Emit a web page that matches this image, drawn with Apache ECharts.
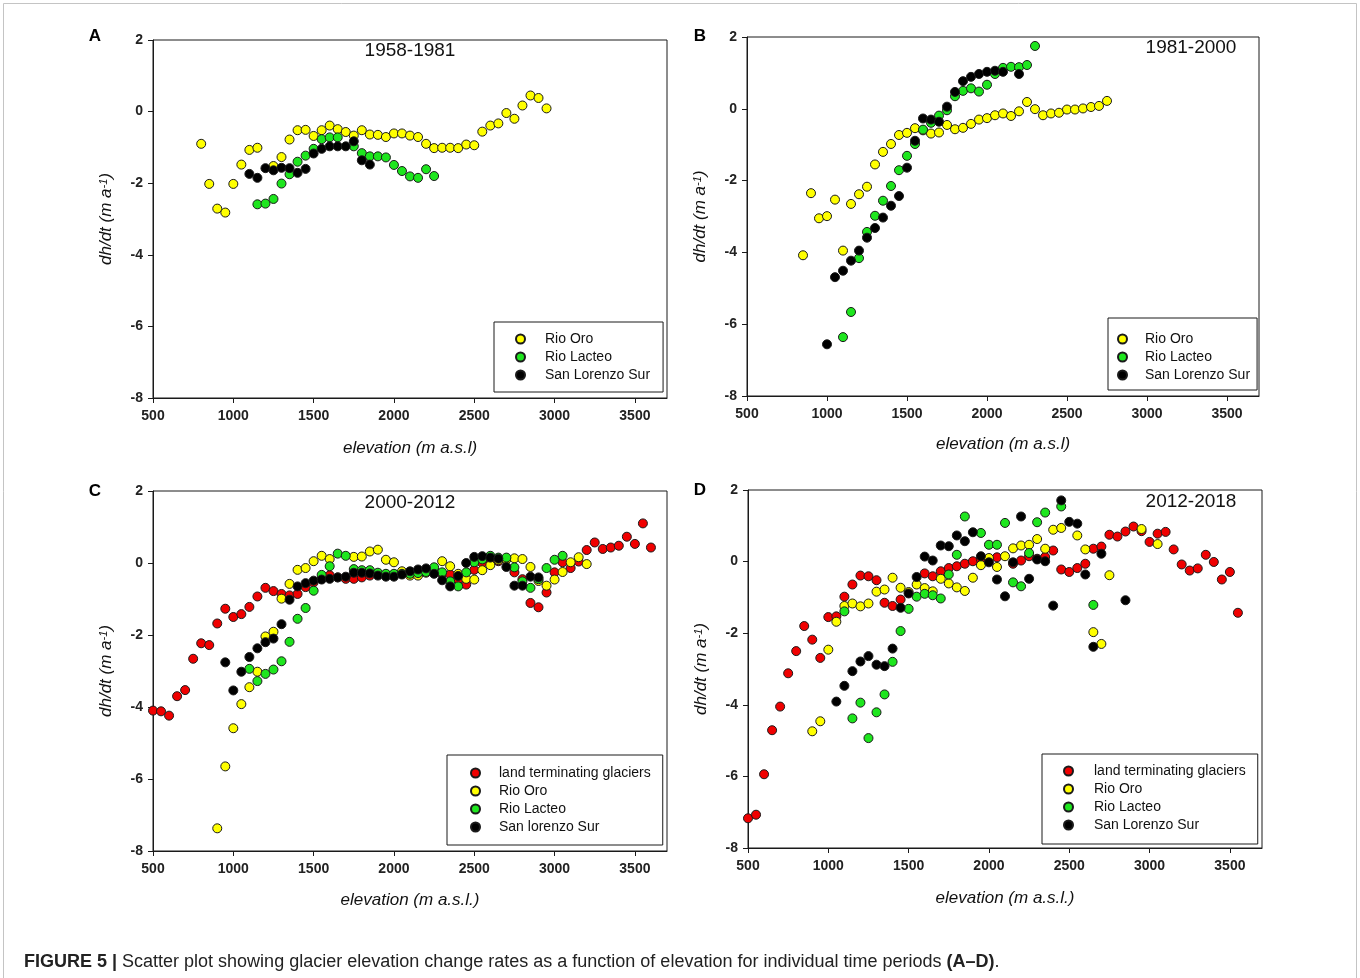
<!DOCTYPE html>
<html><head><meta charset="utf-8">
<script src="https://cdn.jsdelivr.net/npm/echarts@6/dist/echarts.min.js"></script>
<style>html,body{margin:0;padding:0;background:#fff}#c{width:1360px;height:978px}</style>
</head><body><div id="c"></div>
<script>
// ---------- tick labels / categories ----------
const X_TICKS = [500, 1000, 1500, 2000, 2500, 3000, 3500];
const Y_TICKS = [-8, -6, -4, -2, 0, 2];
const PANEL_LETTERS = ['A', 'B', 'C', 'D'];
const PERIODS = ['1958-1981', '1981-2000', '2000-2012', '2012-2018'];
const X_NAMES = ['elevation (m a.s.l)', 'elevation (m a.s.l)', 'elevation (m a.s.l.)', 'elevation (m a.s.l.)'];
const LEGEND_A = ['Rio Oro', 'Rio Lacteo', 'San Lorenzo Sur'];
const LEGEND_B = ['Rio Oro', 'Rio Lacteo', 'San Lorenzo Sur'];
const LEGEND_C = ['land terminating glaciers', 'Rio Oro', 'Rio Lacteo', 'San lorenzo Sur'];
const LEGEND_D = ['land terminating glaciers', 'Rio Oro', 'Rio Lacteo', 'San Lorenzo Sur'];

// ---------- data: [elevation (m a.s.l.), dh/dt (m a-1)] ----------
// Panel A 1958-1981
const A_ORO = [[800,-0.90],[850,-2.02],[900,-2.71],[950,-2.82],[1000,-2.02],[1050,-1.48],[1100,-1.07],[1150,-1.01],[1250,-1.52],[1300,-1.27],[1350,-0.78],[1400,-0.52],[1450,-0.51],[1500,-0.68],[1550,-0.52],[1600,-0.39],[1650,-0.49],[1700,-0.57],[1750,-0.67],[1800,-0.52],[1850,-0.64],[1900,-0.65],[1950,-0.71],[2000,-0.61],[2050,-0.61],[2100,-0.67],[2150,-0.71],[2200,-0.90],[2250,-1.02],[2300,-1.01],[2350,-1.01],[2400,-1.02],[2450,-0.92],[2500,-0.94],[2550,-0.56],[2600,-0.39],[2650,-0.33],[2700,-0.04],[2750,-0.20],[2800,0.17],[2850,0.45],[2900,0.38],[2950,0.09]];
const A_LACTEO = [[1150,-2.59],[1200,-2.57],[1250,-2.44],[1300,-2.01],[1350,-1.75],[1400,-1.40],[1450,-1.23],[1500,-1.04],[1550,-0.77],[1600,-0.72],[1650,-0.72],[1750,-0.97],[1800,-1.16],[1850,-1.25],[1900,-1.25],[1950,-1.28],[2000,-1.49],[2050,-1.66],[2100,-1.81],[2150,-1.85],[2200,-1.61],[2250,-1.80]];
const A_SLS = [[1100,-1.74],[1150,-1.85],[1200,-1.58],[1250,-1.64],[1300,-1.57],[1350,-1.58],[1400,-1.71],[1450,-1.60],[1500,-1.17],[1550,-1.04],[1600,-0.97],[1650,-0.97],[1700,-0.97],[1750,-0.83],[1800,-1.36],[1850,-1.48]];
// Panel B 1981-2000
const B_ORO = [[850,-4.08],[900,-2.35],[950,-3.05],[1000,-2.99],[1050,-2.53],[1100,-3.95],[1150,-2.65],[1200,-2.38],[1250,-2.17],[1300,-1.55],[1350,-1.20],[1400,-0.98],[1450,-0.73],[1500,-0.67],[1550,-0.54],[1600,-0.60],[1650,-0.69],[1700,-0.66],[1750,-0.45],[1800,-0.57],[1850,-0.53],[1900,-0.42],[1950,-0.30],[2000,-0.26],[2050,-0.18],[2100,-0.13],[2150,-0.20],[2200,-0.07],[2250,0.19],[2300,-0.01],[2350,-0.18],[2400,-0.13],[2450,-0.11],[2500,-0.02],[2550,-0.02],[2600,0.01],[2650,0.05],[2700,0.08],[2750,0.22]];
const B_LACTEO = [[1100,-6.36],[1150,-5.66],[1200,-4.16],[1250,-3.43],[1300,-2.98],[1350,-2.56],[1400,-2.15],[1450,-1.71],[1500,-1.31],[1550,-0.98],[1600,-0.58],[1650,-0.39],[1700,-0.19],[1750,-0.04],[1800,0.35],[1850,0.50],[1900,0.57],[1950,0.48],[2000,0.67],[2050,0.97],[2100,1.14],[2150,1.17],[2200,1.16],[2250,1.22],[2300,1.75]];
const B_SLS = [[1000,-6.56],[1050,-4.69],[1100,-4.51],[1150,-4.23],[1200,-3.95],[1250,-3.59],[1300,-3.32],[1350,-3.03],[1400,-2.70],[1450,-2.43],[1500,-1.64],[1550,-0.89],[1600,-0.27],[1650,-0.30],[1700,-0.36],[1750,0.06],[1800,0.47],[1850,0.77],[1900,0.89],[1950,0.97],[2000,1.03],[2050,1.06],[2100,1.03],[2200,0.97]];
// Panel C 2000-2012
const C_LAND = [[500,-4.10],[550,-4.12],[600,-4.24],[650,-3.70],[700,-3.53],[750,-2.66],[800,-2.23],[850,-2.28],[900,-1.68],[950,-1.27],[1000,-1.50],[1050,-1.42],[1100,-1.22],[1150,-0.93],[1200,-0.69],[1250,-0.78],[1300,-0.86],[1350,-0.90],[1400,-0.86],[1450,-0.67],[1500,-0.54],[1550,-0.44],[1600,-0.34],[1650,-0.40],[1700,-0.44],[1750,-0.44],[1800,-0.40],[1850,-0.35],[1900,-0.30],[1950,-0.32],[2000,-0.32],[2050,-0.28],[2100,-0.25],[2150,-0.25],[2200,-0.22],[2250,-0.20],[2300,-0.30],[2350,-0.32],[2400,-0.46],[2450,-0.60],[2500,-0.19],[2550,0.00],[2600,0.09],[2650,0.05],[2700,0.10],[2750,-0.26],[2800,-0.45],[2850,-1.11],[2900,-1.23],[2950,-0.82],[3000,-0.26],[3050,0.02],[3100,-0.14],[3150,0.04],[3200,0.36],[3250,0.57],[3300,0.39],[3350,0.43],[3400,0.48],[3450,0.73],[3500,0.53],[3550,1.10],[3600,0.43]];
const C_ORO = [[900,-7.37],[950,-5.65],[1000,-4.59],[1050,-3.92],[1100,-3.45],[1150,-3.02],[1200,-2.04],[1250,-1.91],[1300,-0.99],[1350,-0.58],[1400,-0.19],[1450,-0.14],[1500,0.05],[1550,0.20],[1600,0.11],[1750,0.17],[1800,0.18],[1850,0.32],[1900,0.37],[1950,0.09],[2000,0.02],[2050,-0.23],[2100,-0.35],[2150,-0.35],[2200,-0.27],[2300,0.05],[2350,-0.09],[2400,-0.30],[2450,-0.44],[2500,-0.46],[2550,-0.20],[2600,-0.06],[2650,0.08],[2700,0.10],[2750,0.13],[2800,0.11],[2850,-0.11],[2900,-0.50],[2950,-0.63],[3000,-0.46],[3050,-0.25],[3100,0.02],[3150,0.16],[3200,-0.03]];
const C_LACTEO = [[1100,-2.94],[1150,-3.28],[1200,-3.08],[1250,-2.96],[1300,-2.73],[1350,-2.19],[1400,-1.55],[1450,-1.25],[1500,-0.77],[1550,-0.33],[1600,-0.09],[1650,0.26],[1700,0.20],[1750,-0.17],[1800,-0.20],[1850,-0.20],[1900,-0.27],[1950,-0.30],[2000,-0.30],[2050,-0.30],[2100,-0.30],[2150,-0.28],[2200,-0.25],[2250,-0.12],[2300,-0.26],[2350,-0.51],[2400,-0.65],[2450,-0.26],[2500,0.02],[2550,0.10],[2600,0.20],[2650,0.15],[2700,0.15],[2750,-0.12],[2800,-0.51],[2850,-0.69],[2900,-0.45],[2950,-0.14],[3000,0.09],[3050,0.20]];
const C_SLS = [[950,-2.76],[1000,-3.54],[1050,-3.02],[1100,-2.61],[1150,-2.37],[1200,-2.20],[1250,-2.10],[1300,-1.70],[1350,-1.02],[1400,-0.65],[1450,-0.56],[1500,-0.49],[1550,-0.46],[1600,-0.44],[1650,-0.40],[1700,-0.38],[1750,-0.27],[1800,-0.27],[1850,-0.29],[1900,-0.35],[1950,-0.38],[2000,-0.38],[2050,-0.32],[2100,-0.23],[2150,-0.18],[2200,-0.15],[2250,-0.30],[2300,-0.48],[2350,-0.65],[2400,-0.36],[2450,0.00],[2500,0.17],[2550,0.19],[2600,0.15],[2650,0.12],[2700,-0.11],[2750,-0.63],[2800,-0.63],[2850,-0.38],[2900,-0.40]];
// Panel D 2012-2018
const D_LAND = [[500,-7.17],[550,-7.07],[600,-5.94],[650,-4.71],[700,-4.05],[750,-3.12],[800,-2.50],[850,-1.80],[900,-2.18],[950,-2.69],[1000,-1.55],[1050,-1.53],[1100,-0.98],[1150,-0.64],[1200,-0.39],[1250,-0.41],[1300,-0.52],[1350,-1.15],[1400,-1.24],[1450,-1.06],[1600,-0.33],[1650,-0.41],[1700,-0.27],[1750,-0.18],[1800,-0.13],[1850,-0.06],[1900,0.01],[1950,0.06],[2000,0.08],[2050,0.12],[2150,-0.06],[2200,0.03],[2250,0.15],[2300,0.08],[2350,0.13],[2400,0.31],[2450,-0.22],[2500,-0.29],[2550,-0.18],[2600,-0.06],[2650,0.36],[2700,0.42],[2750,0.75],[2800,0.70],[2850,0.84],[2900,0.98],[2950,0.85],[3000,0.55],[3050,0.78],[3100,0.83],[3150,0.34],[3200,-0.08],[3250,-0.25],[3300,-0.19],[3350,0.19],[3400,-0.01],[3450,-0.50],[3500,-0.29],[3550,-1.43]];
const D_ORO = [[900,-4.74],[950,-4.46],[1000,-2.46],[1050,-1.68],[1100,-1.24],[1150,-1.17],[1200,-1.25],[1250,-1.17],[1300,-0.84],[1350,-0.78],[1400,-0.45],[1450,-0.73],[1500,-0.85],[1550,-0.64],[1600,-0.74],[1650,-0.83],[1700,-0.48],[1750,-0.61],[1800,-0.72],[1850,-0.82],[1900,-0.45],[1950,-0.10],[2000,0.10],[2050,-0.15],[2100,0.15],[2150,0.37],[2200,0.45],[2250,0.47],[2300,0.63],[2350,0.36],[2400,0.89],[2450,0.94],[2550,0.73],[2600,0.34],[2650,-1.97],[2700,-2.30],[2750,-0.38],[2950,0.91],[3050,0.49]];
const D_LACTEO = [[1100,-1.39],[1150,-4.38],[1200,-3.94],[1250,-4.93],[1300,-4.21],[1350,-3.71],[1400,-2.80],[1450,-1.94],[1500,-1.32],[1550,-0.98],[1600,-0.90],[1650,-0.94],[1700,-1.03],[1750,-0.36],[1800,0.19],[1850,1.26],[1950,0.80],[2000,0.47],[2050,0.47],[2100,1.08],[2150,-0.58],[2200,-0.69],[2250,0.24],[2300,1.10],[2350,1.37],[2450,1.54],[2650,-1.21]];
const D_SLS = [[1050,-3.91],[1100,-3.47],[1150,-3.06],[1200,-2.79],[1250,-2.64],[1300,-2.88],[1350,-2.92],[1400,-2.43],[1450,-1.29],[1500,-0.89],[1550,-0.43],[1600,0.14],[1650,0.03],[1700,0.45],[1750,0.43],[1800,0.73],[1850,0.57],[1900,0.82],[1950,0.15],[2000,-0.02],[2050,-0.50],[2100,-0.97],[2150,-0.02],[2200,1.26],[2250,-0.48],[2300,0.06],[2350,0.01],[2400,-1.23],[2450,1.71],[2500,1.11],[2550,1.06],[2600,-0.36],[2650,-2.38],[2700,0.22],[2850,-1.08]];

// ---------- styling ----------
const FONT = '"Liberation Sans", Arial, Helvetica, sans-serif';
const COL = { land: '#f00000', oro: '#ffff00', lacteo: '#1ee61e', sls: '#000000' };
const INK = '#1a1a1a';

const grids = [
  { left: 153, top: 40, width: 514, height: 358 },
  { left: 747, top: 37, width: 512, height: 359 },
  { left: 153, top: 491, width: 514, height: 360 },
  { left: 748, top: 490, width: 514, height: 358 }
].map(g => Object.assign(g, { show: true, borderColor: INK, borderWidth: 1, backgroundColor: 'transparent' }));

const xNameGaps = [42, 40, 41, 42];
const xAxes = grids.map((g, i) => ({
  gridIndex: i, type: 'value', min: 500, max: 3700, interval: 500,
  name: X_NAMES[i], nameLocation: 'middle', nameGap: xNameGaps[i],
  nameTextStyle: { fontFamily: FONT, fontStyle: 'italic', fontSize: 17, color: '#111' },
  axisLine: { show: true, onZero: false, lineStyle: { color: INK, width: 1 } },
  axisTick: { show: true, inside: false, length: 5, customValues: X_TICKS, lineStyle: { color: INK } },
  axisLabel: { customValues: X_TICKS, formatter: v => String(v), margin: 11, fontFamily: FONT, fontSize: 14, fontWeight: 'bold', color: '#222' },
  splitLine: { show: false }
}));
const yAxes = grids.map((g, i) => ({
  gridIndex: i, type: 'value', min: -8, max: 2, interval: 2,
  name: 'dh/dt (m a{sup|-1})', nameLocation: 'middle', nameRotate: 90, nameGap: 38,
  nameTextStyle: { fontFamily: FONT, fontStyle: 'italic', fontSize: 17, color: '#111',
    rich: { sup: { fontFamily: FONT, fontStyle: 'italic', fontSize: 11, color: '#111', verticalAlign: 'top' } } },
  axisLine: { show: true, onZero: false, lineStyle: { color: INK, width: 1 } },
  axisTick: { show: true, inside: false, length: 5, customValues: Y_TICKS, lineStyle: { color: INK } },
  axisLabel: { customValues: Y_TICKS, formatter: v => String(v), margin: 10, fontFamily: FONT, fontSize: 14, fontWeight: 'bold', color: '#222' },
  splitLine: { show: false }
}));

function sc(name, data, color, idx) {
  return {
    type: 'scatter', name, data, xAxisIndex: idx, yAxisIndex: idx,
    symbol: 'circle', symbolSize: 9,
    itemStyle: { color, borderColor: INK, borderWidth: 1, opacity: 1 },
    emphasis: { disabled: true }, silent: true
  };
}
const series = [
  sc('Rio Oro', A_ORO, COL.oro, 0), sc('Rio Lacteo', A_LACTEO, COL.lacteo, 0), sc('San Lorenzo Sur', A_SLS, COL.sls, 0),
  sc('Rio Oro', B_ORO, COL.oro, 1), sc('Rio Lacteo', B_LACTEO, COL.lacteo, 1), sc('San Lorenzo Sur', B_SLS, COL.sls, 1),
  sc('land terminating glaciers', C_LAND, COL.land, 2), sc('Rio Oro', C_ORO, COL.oro, 2), sc('Rio Lacteo', C_LACTEO, COL.lacteo, 2), sc('San lorenzo Sur', C_SLS, COL.sls, 2),
  sc('land terminating glaciers', D_LAND, COL.land, 3), sc('Rio Oro', D_ORO, COL.oro, 3), sc('Rio Lacteo', D_LACTEO, COL.lacteo, 3), sc('San Lorenzo Sur', D_SLS, COL.sls, 3)
];

function lg(data, left, top, padding, textPad) {
  return {
    orient: 'vertical', left, top, data, icon: 'circle', itemWidth: 9, itemHeight: 9, itemGap: 2,
    padding, borderColor: INK, borderWidth: 1, selectedMode: false,
    textStyle: { fontFamily: FONT, fontSize: 14, color: '#111', lineHeight: 16, padding: [0, 0, 0, textPad] }
  };
}
const legends = [
  lg(LEGEND_A, 494, 322, [9, 13, 9, 21], 15),
  lg(LEGEND_B, 1108, 318, [13, 7, 7, 9], 13),
  lg(LEGEND_C, 447, 755, [10, 12, 10, 23], 14),
  lg(LEGEND_D, 1042, 754, [9, 12, 11, 21], 16)
];

const titlePos = [[410, 51], [1191, 48], [410, 503], [1191, 502]];
const letterPos = [[95, 36], [700, 36], [95, 491], [700, 490]];
const graphics = [
  { type: 'rect', shape: { x: 3.5, y: 3.5, width: 1353, height: 1000 }, style: { fill: 'none', stroke: '#c4c4c4', lineWidth: 1 }, silent: true }
];
PERIODS.forEach((t, i) => graphics.push({ type: 'text', x: titlePos[i][0], y: titlePos[i][1], silent: true,
  style: { text: t, font: '19px ' + FONT, fill: '#111', align: 'center', verticalAlign: 'middle' } }));
PANEL_LETTERS.forEach((t, i) => graphics.push({ type: 'text', x: letterPos[i][0], y: letterPos[i][1], silent: true,
  style: { text: t, font: 'bold 17px ' + FONT, fill: '#000', align: 'center', verticalAlign: 'middle' } }));
graphics.push({ type: 'text', x: 24, y: 962, silent: true,
  style: { text: '{b|FIGURE 5 |} Scatter plot showing glacier elevation change rates as a function of elevation for individual time periods {b|(A–D)}.',
    font: '18px ' + FONT, fill: '#222', align: 'left', verticalAlign: 'middle',
    rich: { b: { fontWeight: 'bold', fontSize: 18, fontFamily: FONT, fill: '#222' } } } });

const chart = echarts.init(document.getElementById('c'), null, { renderer: 'canvas' });
chart.setOption({
  animation: false,
  backgroundColor: '#fff',
  grid: grids, xAxis: xAxes, yAxis: yAxes,
  legend: legends, series, graphic: graphics
});
</script></body></html>
